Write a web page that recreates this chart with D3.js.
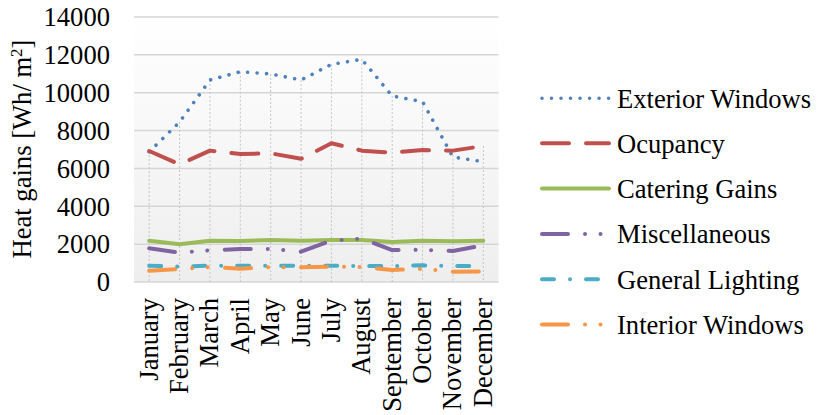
<!DOCTYPE html>
<html>
<head>
<meta charset="utf-8">
<script src="https://cdn.jsdelivr.net/npm/d3@7/dist/d3.min.js"></script>
<style>
  html, body { margin: 0; padding: 0; background: #ffffff; }
  svg { display: block; }
  text { font-family: "Liberation Serif", "Times New Roman", serif; fill: #000; }
</style>
</head>
<body>
<svg id="chart" width="818" height="415"></svg>
<script>
const months = ["January","February","March","April","May","June","July","August","September","October","November","December"];
const yTicks = [0, 2000, 4000, 6000, 8000, 10000, 12000, 14000];

const exteriorWindows = [6880, 8450, 10670, 11110, 10990, 10670, 11500, 11765, 9825, 9525, 6600, 6355];
const ocupancy        = [6920, 6220, 6940, 6760, 6800, 6510, 7330, 6940, 6830, 6970, 6940, 7185];
const cateringGains   = [2180, 1990, 2180, 2165, 2215, 2180, 2215, 2215, 2115, 2180, 2150, 2180];
const miscellaneous   = [1780, 1550, 1675, 1745, 1745, 1600, 2190, 2290, 1690, 1700, 1640, 1940];
const generalLighting = [860, 810, 860, 860, 860, 860, 860, 845, 845, 880, 845, 845];
const interiorWindows = [600, 685, 790, 705, 790, 775, 810, 790, 635, 690, 545, 550];

const seriesNames = ["Exterior Windows","Ocupancy","Catering Gains","Miscellaneous","General Lighting","Interior Windows"];
const seriesValues = [exteriorWindows, ocupancy, cateringGains, miscellaneous, generalLighting, interiorWindows];
const seriesColors = ["#4F81BD","#C0504D","#9BBB59","#8064A2","#4BACC6","#F79646"];
const seriesDash = ["0.01,9.5", "27,17", null, "26,17,0.01,15.5,0.01,17.5", "12,16,0.01,16", "26,17,0.01,15.5,0.01,17.5"];

const FS = 26.6;
const svg = d3.select("#chart");
const pLeft = 134, pRight = 498.5, pTop = 17, pBottom = 282;

const x = d3.scalePoint().domain(months).range([pLeft, pRight]).padding(0.5);
const y = d3.scaleLinear().domain([0, 14000]).range([pBottom, pTop]);

// background gradient
const defs = svg.append("defs");
const grad = defs.append("linearGradient").attr("id", "bg").attr("x1", 0).attr("y1", 0).attr("x2", 0).attr("y2", 1);
grad.append("stop").attr("offset", "0%").attr("stop-color", "#ffffff");
grad.append("stop").attr("offset", "100%").attr("stop-color", "#eeeeee");
svg.append("rect").attr("x", pLeft).attr("y", pTop).attr("width", pRight - pLeft).attr("height", pBottom - pTop).attr("fill", "url(#bg)");

// horizontal gridlines
svg.append("g").selectAll("line").data(yTicks).join("line")
  .attr("x1", pLeft).attr("x2", pRight)
  .attr("y1", d => y(d)).attr("y2", d => y(d))
  .attr("stroke", "#d6d6d6").attr("stroke-width", 1.5);

// drop lines
svg.append("g").selectAll("line").data(months).join("line")
  .attr("x1", d => x(d)).attr("x2", d => x(d))
  .attr("y1", (d, i) => y(d3.max(seriesValues, s => s[i])))
  .attr("y2", pBottom)
  .attr("stroke", "#c4c4c4").attr("stroke-width", 1).attr("stroke-dasharray", "2,2");

// y tick labels
svg.append("g").selectAll("text").data(yTicks).join("text")
  .attr("x", 110).attr("y", d => y(d)).attr("dy", "0.35em")
  .attr("text-anchor", "end").attr("font-size", FS)
  .text(d => d);

// y axis title
svg.append("text")
  .attr("transform", "translate(31,149) rotate(-90)")
  .attr("text-anchor", "middle").attr("font-size", FS)
  .html('Heat gains [Wh/ m<tspan baseline-shift="super" font-size="17">2</tspan>]');

// x labels
svg.append("g").selectAll("text").data(months).join("text")
  .attr("transform", d => `translate(${x(d)},298) rotate(-90)`)
  .attr("dy", "0.32em").attr("text-anchor", "end").attr("font-size", FS)
  .text(d => d);

// lines
const line = d3.line().x((d, i) => x(months[i])).y(d => y(d));
seriesValues.forEach((vals, k) => {
  svg.append("path").datum(vals)
    .attr("d", line)
    .attr("fill", "none")
    .attr("stroke", seriesColors[k])
    .attr("stroke-width", k === 0 ? 3.6 : 4)
    .attr("stroke-linecap", "round")
    .attr("stroke-linejoin", "round")
    .attr("stroke-dasharray", seriesDash[k]);
});

// legend
const legendY = [98.3, 143.3, 188.6, 234, 279.3, 324.6];
const lg = svg.append("g");
seriesNames.forEach((name, k) => {
  lg.append("line")
    .attr("x1", 542).attr("x2", 609).attr("y1", legendY[k]).attr("y2", legendY[k])
    .attr("stroke", seriesColors[k])
    .attr("stroke-width", k === 0 ? 3.6 : 4)
    .attr("stroke-linecap", "round")
    .attr("stroke-dasharray", seriesDash[k]);
  lg.append("text")
    .attr("x", 617).attr("y", legendY[k]).attr("dy", "0.35em")
    .attr("font-size", FS)
    .text(name);
});
</script>
</body>
</html>
